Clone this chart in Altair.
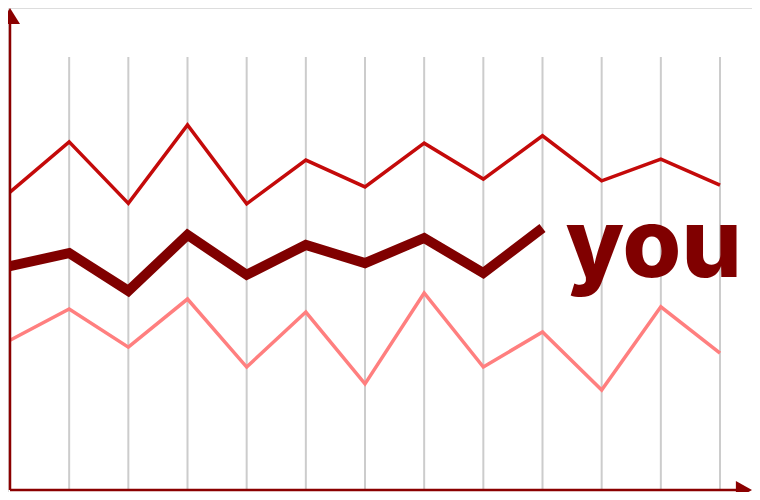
import altair as alt
import pandas as pd

# x positions (13 steps)
steps = list(range(13))

# series values (arbitrary units, 0..100 = axis to top of gridlines)
top_series = [68.8, 80.4, 66.2, 84.3, 66.1, 76.2, 70.0, 80.1, 71.8, 81.8, 71.4, 76.4, 70.4]
you_series = [51.7, 54.7, 46.0, 58.9, 49.7, 56.6, 52.4, 58.2, 50.1, 60.5]
low_series = [34.6, 41.8, 33.0, 44.1, 28.4, 41.1, 24.5, 45.5, 28.4, 36.5, 23.1, 42.3, 31.6]
label_text = "you"

top_df = pd.DataFrame({"step": steps, "value": top_series})
you_df = pd.DataFrame({"step": steps[:len(you_series)], "value": you_series})
low_df = pd.DataFrame({"step": steps, "value": low_series})
grid_df = pd.DataFrame({"step": steps, "lo": [0] * len(steps), "hi": [100] * len(steps)})
label_df = pd.DataFrame({"step": [steps[len(you_series) - 1]], "value": [you_series[-1]], "label": [label_text]})

W, H = 744, 484
xs = alt.Scale(domain=[0, 12], range=[2, 712])
ys = alt.Scale(domain=[0, 100], range=[482, 49])

X = alt.X("step:Q", scale=xs, axis=None)
Y = alt.Y("value:Q", scale=ys, axis=None)

grid = alt.Chart(grid_df).mark_rule(color="#cccccc", strokeWidth=2).encode(
    x=X, y=alt.Y("lo:Q", scale=ys, axis=None), y2="hi:Q"
)

low = alt.Chart(low_df).mark_line(color="#ff7f7f", strokeWidth=3.5).encode(x=X, y=Y)
top = alt.Chart(top_df).mark_line(color="#c40a0a", strokeWidth=3.5).encode(x=X, y=Y)
you = alt.Chart(you_df).mark_line(color="#800000", strokeWidth=10).encode(x=X, y=Y)

label = alt.Chart(label_df).mark_text(
    color="#800000", font="Inter", fontWeight=800, fontSize=95,
    align="left", baseline="alphabetic", dx=23, dy=49
).encode(x=X, y=Y, text="label:N")

axis_col = "#8b0000"
yaxis = alt.Chart(label_df).mark_rule(color=axis_col, strokeWidth=2.5).encode(
    x=alt.value(2), y=alt.value(10), y2=alt.value(482)
)
xaxis = alt.Chart(label_df).mark_rule(color=axis_col, strokeWidth=2.5).encode(
    x=alt.value(2), x2=alt.value(734), y=alt.value(482)
)
yarrow = alt.Chart(label_df).mark_point(
    shape="M0,-0.8L1,0.8L-1,0.8Z", filled=True, color=axis_col, opacity=1, size=400
).encode(x=alt.value(2), y=alt.value(8))
xarrow = alt.Chart(label_df).mark_point(
    shape="M0.9,0L-0.9,1L-0.9,-1Z", filled=True, color=axis_col, opacity=1, size=324
).encode(x=alt.value(736), y=alt.value(482))

chart = alt.layer(grid, low, top, you, label, yaxis, xaxis, yarrow, xarrow).properties(
    width=W, height=H, padding=0, autosize=alt.AutoSizeParams(type="none")
).configure_view(strokeWidth=0, stroke="transparent").configure(background="white")

chart.save("out.html", embed_options={"renderer": "svg", "actions": False})
